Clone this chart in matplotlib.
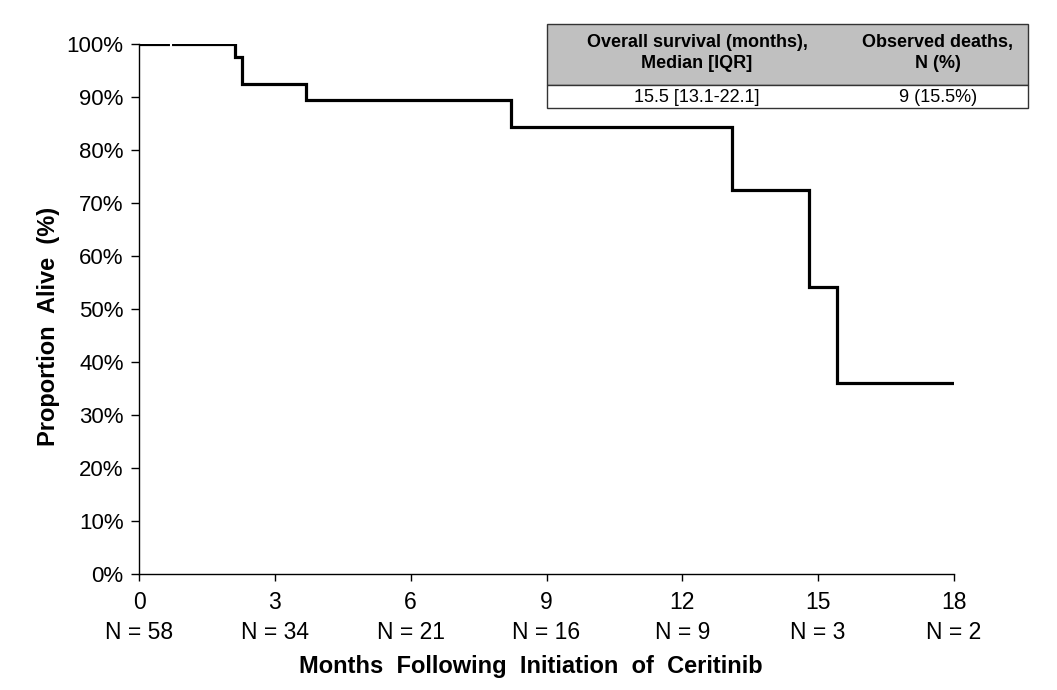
import matplotlib
matplotlib.use("Agg")
import matplotlib.pyplot as plt
import numpy as np

plt.rcParams['font.family'] = ['Liberation Sans', 'DejaVu Sans']

# Kaplan-Meier step data (months, proportion alive %)
times = [0, 2.13, 2.28, 3.68, 8.22, 13.1, 14.8, 15.42, 18.0]
surv = [100, 97.6, 92.4, 89.4, 84.4, 72.4, 54.2, 36.1, 36.1]
censor_times = [0.7]

x_ticks = [0, 3, 6, 9, 12, 15, 18]
at_risk = [58, 34, 21, 16, 9, 3, 2]
y_ticks = [0, 10, 20, 30, 40, 50, 60, 70, 80, 90, 100]

table_header = ["Overall survival (months),\nMedian [IQR]", "Observed deaths,\nN (%)"]
table_row = ["15.5 [13.1-22.1]", "9 (15.5%)"]

fig = plt.figure(figsize=(10.57, 6.9), dpi=100)
ax = fig.add_axes([139/1057, 1-574/690, (954-139)/1057, (574-44)/690])

ax.step(times, surv, where='post', color='black', lw=2.3, solid_joinstyle='miter')
for c in censor_times:
    ax.plot([c], [100], marker='|', color='white', ms=4, mew=1.5)

ax.set_xlim(0, 18)
ax.set_ylim(0, 100)
ax.spines['top'].set_visible(False)
ax.spines['right'].set_visible(False)
ax.spines['left'].set_linewidth(1.0)
ax.spines['bottom'].set_linewidth(1.0)
ax.set_xticks(x_ticks)
ax.set_xticklabels([f"{t}\nN = {n}" for t, n in zip(x_ticks, at_risk)], fontsize=16.5, linespacing=1.4)
ax.set_yticks(y_ticks)
ax.set_yticklabels([f"{v}%" for v in y_ticks], fontsize=16)
ax.tick_params(axis='x', direction='out', length=5, width=1, pad=7)
ax.tick_params(axis='y', direction='out', length=6, width=1, pad=5)

ax.set_xlabel("Months  Following  Initiation  of  Ceritinib", fontsize=17, fontweight='bold')
ax.set_ylabel("Proportion  Alive  (%)", fontsize=17, fontweight='bold')
ax.xaxis.set_label_coords((531-139)/815, (574-667)/530, transform=ax.transAxes)
ax.yaxis.set_label_coords((49-139)/815, (574-326)/530, transform=ax.transAxes)
ax.xaxis.label.set_va('center')
ax.yaxis.label.set_va('center')

# Summary table
tx0, tx1 = 547/1057, 1028/1057
ty_top, ty_mid, ty_bot = 1-24/690, 1-85/690, 1-108/690
fig.patches.append(plt.Rectangle((tx0, ty_mid), tx1-tx0, ty_top-ty_mid, transform=fig.transFigure,
                                 facecolor='#c0c0c0', edgecolor='#333333', lw=1.0))
fig.patches.append(plt.Rectangle((tx0, ty_bot), tx1-tx0, ty_mid-ty_bot, transform=fig.transFigure,
                                 facecolor='white', edgecolor='#333333', lw=1.0))
col_x = [697/1057, 938/1057]
for cx, h, r in zip(col_x, table_header, table_row):
    fig.text(cx, 1-53/690, h, ha='center', va='center', fontsize=13, fontweight='bold', linespacing=1.3)
    fig.text(cx, 1-97/690, r, ha='center', va='center', fontsize=13)

fig.savefig("out.png", dpi=100, facecolor='white')
